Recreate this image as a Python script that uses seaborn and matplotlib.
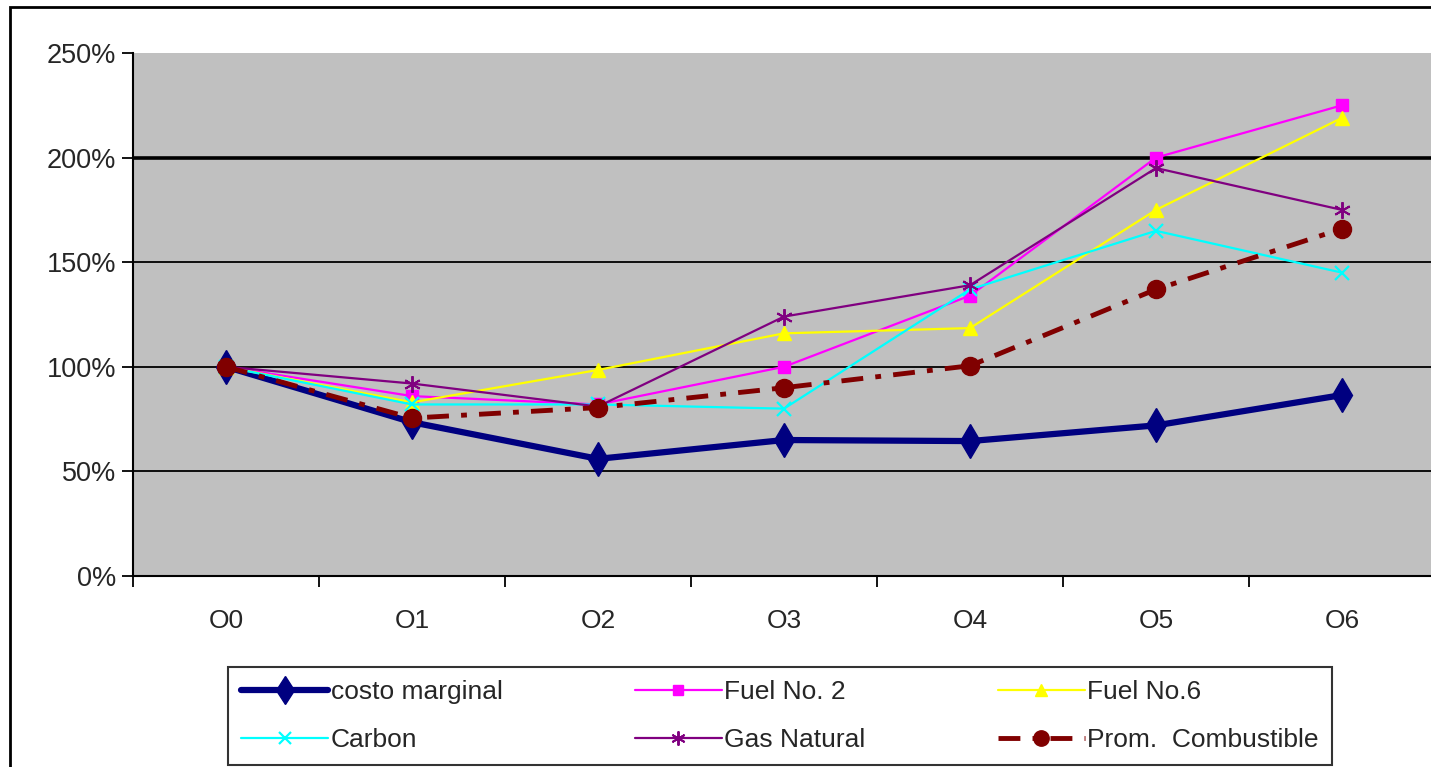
import matplotlib
matplotlib.use("Agg")
import matplotlib.pyplot as plt
import seaborn as sns
import pandas as pd

# data (percent)
periodos = ["O0", "O1", "O2", "O3", "O4", "O5", "O6"]
costo_marginal = [100, 73.5, 56, 65, 64.5, 72, 86.5]
fuel_no2 = [100, 86, 82, 100, 134, 200, 225]
fuel_no6 = [100, 83, 98.5, 116, 118.5, 175, 219]
carbon = [100, 82, 82, 80, 137, 165, 145]
gas_natural = [100, 92, 81, 124, 139, 195, 175]
prom_combustible = [100, 75.5, 80.5, 90, 100.5, 137, 166]

series = [
    ("costo marginal", costo_marginal, dict(color="#000080", lw=4.5, marker="d", ms=17, ls="-")),
    ("Fuel No. 2", fuel_no2, dict(color="#FF00FF", lw=1.6, marker="s", ms=8.5, ls="-")),
    ("Fuel No.6", fuel_no6, dict(color="#FFFF00", lw=1.6, marker="^", ms=10, ls="-")),
    ("Carbon", carbon, dict(color="#00FFFF", lw=1.6, marker="x", ms=10, mew=1.6, ls="-")),
    ("Gas Natural", gas_natural, dict(color="#800080", lw=1.6, marker=(6, 2, 0), ms=12, mew=1.4, ls="-")),
    ("Prom.  Combustible", prom_combustible, dict(color="#800000", lw=3.5, marker="o", ms=13,
                                                 dashes=(4.5, 2.5, 1.2, 2.5))),
]

sns.set_style("white")
plt.rcParams["font.family"] = ["Liberation Sans", "DejaVu Sans"]

fig = plt.figure(figsize=(14.31, 7.67), dpi=100)
ax = fig.add_axes([133 / 1431, 1 - 576 / 767, 1302 / 1431, 523 / 767])
ax.set_facecolor("#C0C0C0")

handles = {}
for name, vals, st in series:
    df = pd.DataFrame({"x": range(len(periodos)), "y": vals})
    st = dict(st)
    dashes = st.pop("dashes", None)
    sns.lineplot(data=df, x="x", y="y", ax=ax, color=st.pop("color"), linewidth=st.pop("lw"),
                 marker=st.pop("marker"), markersize=st.pop("ms"),
                 markeredgewidth=st.pop("mew", 1.0), linestyle=st.pop("ls", "-"))
    line = ax.get_lines()[-1]
    line.set_markeredgecolor(line.get_color())
    if dashes is not None:
        line.set_dashes(dashes)
    handles[name] = line

ax.set_xlim(-0.5, 6.5)
ax.set_ylim(0, 250)
ax.set_xticks(range(len(periodos)))
ax.set_xticklabels(periodos)
ax.set_xticks([i - 0.5 for i in range(8)], minor=True)
ax.tick_params(axis="x", which="major", length=0, pad=24, labelsize=19)
ax.tick_params(axis="x", which="minor", length=8, width=1.3, direction="out", color="black", bottom=True)
ax.set_yticks([0, 50, 100, 150, 200, 250])
ax.set_yticklabels([f"{v}%" for v in [0, 50, 100, 150, 200, 250]])
ax.tick_params(axis="y", length=8, width=1.3, direction="out", color="black", left=True, labelsize=19.5, pad=4)
ax.set_xlabel("")
ax.set_ylabel("")

for v in [50, 100, 150]:
    ax.axhline(v, color="black", lw=1.3, zorder=1)
ax.axhline(200, color="black", lw=2.6, zorder=1)

for s in ["top", "right"]:
    ax.spines[s].set_visible(False)
for s in ["left", "bottom"]:
    ax.spines[s].set_color("black")
    ax.spines[s].set_linewidth(1.5)

# legend rows as in the original: filled column-wise, so reorder
order = ["costo marginal", "Carbon", "Fuel No. 2", "Gas Natural", "Fuel No.6", "Prom.  Combustible"]
leg = fig.legend([handles[n] for n in order], order, loc="upper left",
                 bbox_to_anchor=(228 / 1431, 0.0, 1104 / 1431, 1 - 667 / 767),
                 mode="expand", ncol=3, fontsize=19, frameon=True, fancybox=False,
                 handlelength=3.3, handletextpad=0.1, labelspacing=0.9,
                 borderpad=0.5, borderaxespad=0.0, markerscale=0.85)
leg.get_frame().set_edgecolor("black")
leg.get_frame().set_linewidth(1.5)

fig.add_artist(plt.Rectangle((10 / 1431, -0.1), 1.2, 1 - 7 / 767 + 0.1, transform=fig.transFigure,
                             fill=False, lw=2, ec="black"))

fig.savefig("out.png", dpi=100)
